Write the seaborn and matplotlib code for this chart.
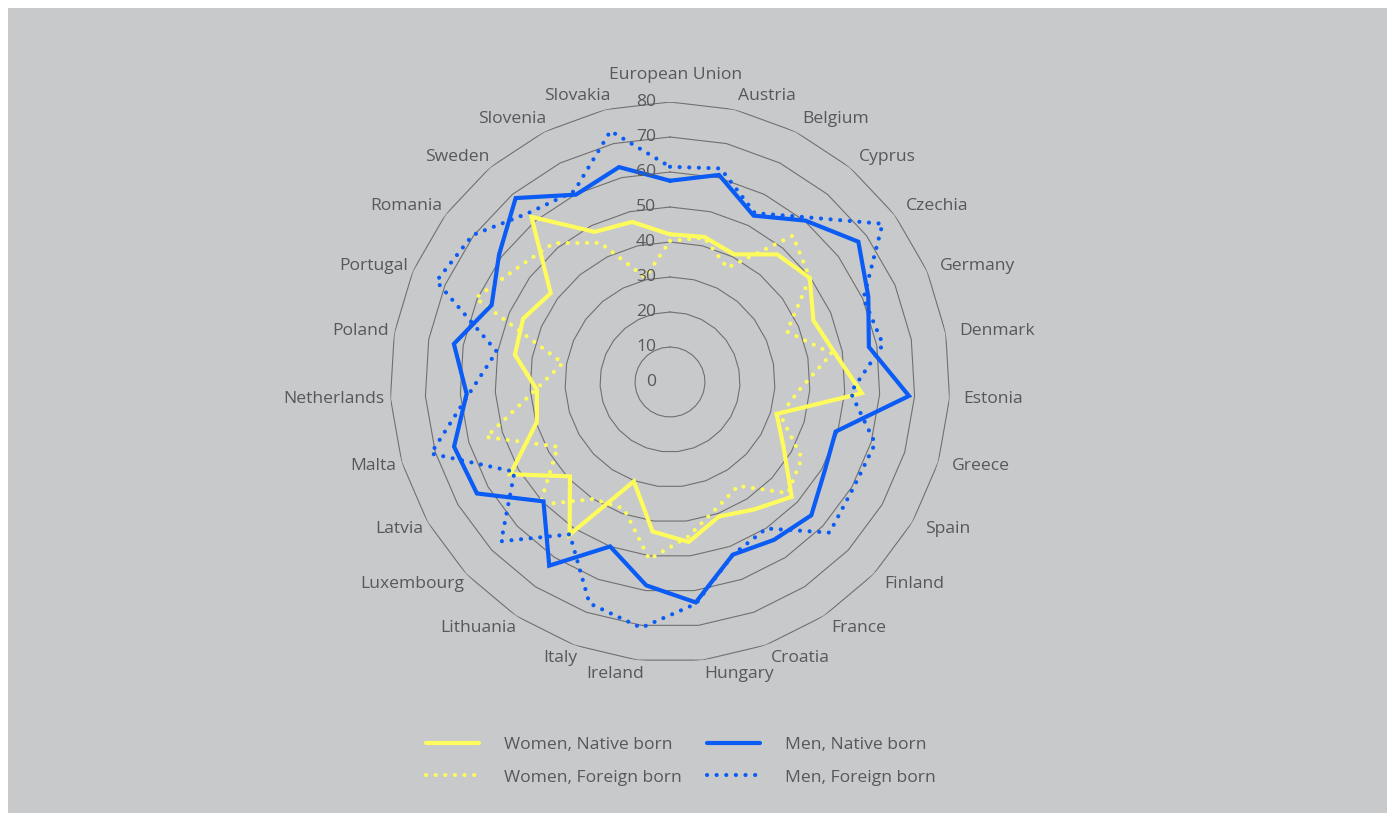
import numpy as np
import pandas as pd
import matplotlib
matplotlib.use("Agg")
import matplotlib.pyplot as plt
import matplotlib.transforms as mtransforms
from matplotlib.lines import Line2D
import seaborn as sns

countries = ["European Union", "Austria", "Belgium", "Cyprus", "Czechia", "Germany", "Denmark",
             "Estonia", "Greece", "Spain", "Finland", "France", "Croatia", "Hungary", "Ireland",
             "Italy", "Lithuania", "Luxembourg", "Latvia", "Malta", "Netherlands", "Poland",
             "Portugal", "Romania", "Sweden", "Slovenia", "Slovakia"]

women_native = [42.2, 42.6, 40.8, 47.6, 49.8, 44.6, 47.8, 54.9, 31.8, 37.5, 47.8, 43.6, 40.9, 46.0,
                43.0, 30.2, 52.2, 39.3, 52.7, 39.7, 38.1, 45.0, 45.7, 42.5, 61.6, 48.0, 47.0]
women_foreign = [40.3, 42.4, 36.5, 54.6, 49.8, 36.4, 46.9, 37.1, 32.9, 43.5, 46.3, 35.5, 38.5, 44.5,
                 51.0, 38.5, 40.0, 51.1, 37.0, 54.8, 38.5, 31.1, 60.5, 54.5, 51.8, 44.5, 30.7]
men_native = [57.5, 60.8, 53.2, 60.2, 67.1, 61.7, 57.7, 68.4, 49.4, 51.0, 55.5, 54.0, 52.5, 63.4,
              58.5, 50.0, 62.8, 49.7, 63.7, 64.4, 58.2, 62.7, 55.5, 60.9, 68.6, 59.9, 63.1]
men_foreign = [61.5, 62.7, 54.0, 61.4, 75.7, 60.2, 61.8, 51.7, 61.2, 60.5, 62.7, 50.1, 52.5, 63.8,
               70.7, 67.3, 52.1, 66.3, 51.3, 71.3, 57.5, 50.3, 72.7, 70.3, 63.0, 61.0, 73.7]

series_labels = ["Women, Native born", "Women, Foreign born", "Men, Native born", "Men, Foreign born"]
tick_values = [0, 10, 20, 30, 40, 50, 60, 70, 80]

YELLOW = "#fdfc5c"
BLUE = "#0a5cf5"
TEXT = "#585858"
BG = "#c8c9cb"

sns.set_theme(style="white")
plt.rcParams["font.family"] = ["Open Sans", "DejaVu Sans"]

W, H = 1395, 821
fig = plt.figure(figsize=(W / 100, H / 100), dpi=100, facecolor="white")
fig.patches.append(plt.Rectangle((8 / W, 8 / H), (W - 16) / W, (H - 16) / H,
                                 transform=fig.transFigure, facecolor=BG, edgecolor="none", zorder=-10))

cx, cy, R = 670, H - 382, 280
ax = fig.add_axes([(cx - R) / W, (cy - R) / H, 2 * R / W, 2 * R / H], projection="polar")
ax.set_facecolor("none")
ax.set_theta_zero_location("N")
ax.set_theta_direction(-1)
ax.grid(False)
ax.spines["polar"].set_visible(False)
ax.set_xticks([])
ax.set_yticks([])
ax.set_ylim(0, 80)

n = len(countries)
theta = np.arange(n) * 2 * np.pi / n
theta_c = np.append(theta, 2 * np.pi)

# polygon grid
for lvl in tick_values[1:]:
    ax.plot(theta_c, [lvl] * (n + 1), color="#707070", lw=0.8, zorder=1)

dotted = (0, (0.01, 2.3))
styles = [
    (women_native, YELLOW, "-"),
    (women_foreign, YELLOW, dotted),
    (men_native, BLUE, "-"),
    (men_foreign, BLUE, dotted),
]
for (vals, col, ls), lab in zip(styles, series_labels):
    df = pd.DataFrame({"theta": theta_c, "value": list(vals) + [vals[0]]})
    sns.lineplot(data=df, x="theta", y="value", sort=False, ax=ax, color=col, lw=3.0,
                 linestyle=ls, dash_capstyle="round", solid_joinstyle="miter", zorder=3,
                 legend=False)
ax.set_xlabel("")
ax.set_ylabel("")
ax.set_ylim(0, 80)

FS = 12.6

# tick labels
off = mtransforms.offset_copy(ax.transData, fig=fig, x=-14, y=0, units="dots")
for v in tick_values:
    ax.text(0, v, str(v), transform=off, ha="right", va="center", fontsize=FS, color=TEXT, zorder=4)

# category labels
off_left = mtransforms.offset_copy(ax.transData, fig=fig, x=8, y=0, units="dots")
off_top = mtransforms.offset_copy(ax.transData, fig=fig, x=6, y=0, units="dots")
for i, name in enumerate(countries):
    t = theta[i]
    s = np.sin(t)
    if i == 0:
        ax.text(t, 87.7, name, transform=off_top, ha="center", va="center", fontsize=FS, color=TEXT)
    elif s > 0:
        ax.text(t, 84.0, name, ha="left", va="center", fontsize=FS, color=TEXT)
    else:
        ax.text(t, 84.0, name, transform=off_left, ha="right", va="center", fontsize=FS, color=TEXT)

handles = [
    Line2D([], [], color=YELLOW, lw=3.0, linestyle="-"),
    Line2D([], [], color=YELLOW, lw=3.0, linestyle=dotted, dash_capstyle="round"),
    Line2D([], [], color=BLUE, lw=3.0, linestyle="-"),
    Line2D([], [], color=BLUE, lw=3.0, linestyle=dotted, dash_capstyle="round"),
]
leg = fig.legend(handles, series_labels, ncol=2, loc="center", bbox_to_anchor=(681 / W, 1 - 761 / H),
                 frameon=False, fontsize=FS, handlelength=3.0, handletextpad=1.45,
                 columnspacing=1.45, labelspacing=0.95)
for t in leg.get_texts():
    t.set_color(TEXT)

fig.savefig("out.png", dpi=100, facecolor="white")
